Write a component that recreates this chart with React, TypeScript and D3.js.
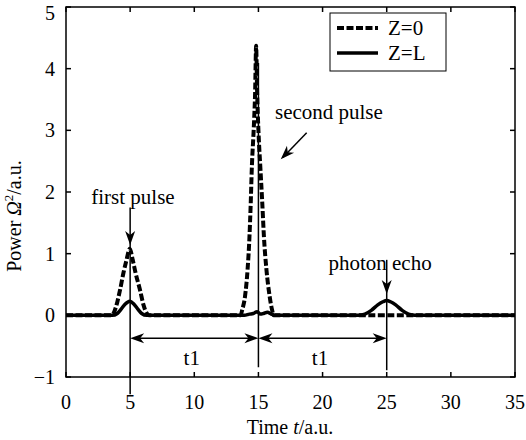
import React from "react";
import * as d3 from "d3";

// ---- Data ----
const tZ0 = [0, 3.5, 3.7, 3.94, 4.21, 4.48, 4.72, 4.97, 5.2, 5.42, 5.77, 6.04, 6.3, 6.5, 13.6, 13.75, 13.95, 14.15, 14.3, 14.4, 14.48, 14.65, 14.74, 14.82, 14.9, 15.0, 15.16, 15.3, 15.43, 15.63, 15.88, 16.05, 16.2, 35];
const pZ0 = [0, 0, 0.03, 0.17, 0.41, 0.69, 0.9, 1.08, 0.9, 0.69, 0.41, 0.17, 0.03, 0, 0, 0.1, 0.3, 0.73, 1.27, 1.82, 2.36, 3.1, 3.6, 4.37, 3.6, 3.0, 2.36, 1.82, 1.27, 0.73, 0.3, 0.1, 0, 0];

const tZL = [0, 3.6, 4.0, 4.3, 4.6, 4.97, 5.3, 5.6, 5.9, 6.3, 13.9, 14.3, 14.6, 14.9, 15.15, 15.4, 15.7, 16.0, 16.3, 22.8, 23.3, 23.8, 24.3, 24.7, 25.0, 25.3, 25.7, 26.2, 26.7, 27.2, 35];
const pZL = [0, 0, 0.03, 0.1, 0.18, 0.23, 0.18, 0.1, 0.03, 0, 0, 0.02, 0.03, 0.06, 0.02, 0.03, 0.05, 0.02, 0, 0, 0.02, 0.08, 0.17, 0.22, 0.24, 0.22, 0.17, 0.08, 0.02, 0, 0];

const xTicks = [0, 5, 10, 15, 20, 25, 30, 35];
const yTicks = [-1, 0, 1, 2, 3, 4, 5];
const seriesNames = ["Z=0", "Z=L"];

// Annotation anchors in data units
const markerT = [5, 15, 25];
const markerTop = [1.75, 4.09, 0.9];
const markerBottom = [-1.28, -0.84, -0.89];
const intervalY = -0.37;
const intervalLabels = ["t1", "t1"];

const FONT = "'Liberation Serif', 'Times New Roman', serif";

function arrowHead(tx: number, ty: number, dx: number, dy: number) {
  const len = Math.hypot(dx, dy);
  const ux = dx / len, uy = dy / len;
  const nx = -uy, ny = ux;
  const L = 14, W = 5, N = 4;
  const p = [
    [tx, ty],
    [tx - L * ux + W * nx, ty - L * uy + W * ny],
    [tx - (L - N) * ux, ty - (L - N) * uy],
    [tx - L * ux - W * nx, ty - L * uy - W * ny],
  ];
  return "M" + p.map((q) => q.join(",")).join("L") + "Z";
}

export default function App() {
  const W = 526, H = 440;
  const x = d3.scaleLinear().domain([0, 35]).range([66, 515]);
  const y = d3.scaleLinear().domain([-1, 5]).range([377, 7]);

  const line = d3
    .line<[number, number]>()
    .x((d) => x(d[0]))
    .y((d) => y(d[1]))
    .curve(d3.curveMonotoneX);

  const z0 = line(tZ0.map((t, i) => [t, pZ0[i]] as [number, number])) || "";
  const zl = line(tZL.map((t, i) => [t, pZL[i]] as [number, number])) || "";

  const x0 = x.range()[0], x1 = x.range()[1];
  const yb = y.range()[0], yt = y.range()[1];
  const tick = 5;

  return (
    <svg width={W} height={H} style={{ position: "absolute", left: 0, top: 0, background: "#fff" }} fontFamily={FONT}>
      <rect x={0} y={0} width={W} height={H} fill="#fff" />
      {/* series */}
      <path d={zl} fill="none" stroke="#000" strokeWidth={3.5} strokeLinejoin="round" />
      <path d={z0} fill="none" stroke="#000" strokeWidth={4} strokeDasharray="7 2.5" />

      {/* frame */}
      <rect x={x0} y={yt} width={x1 - x0} height={yb - yt} fill="none" stroke="#000" strokeWidth={1.5} />
      {xTicks.map((t) => (
        <g key={"xt" + t}>
          <line x1={x(t)} x2={x(t)} y1={yb} y2={yb - tick} stroke="#000" strokeWidth={1.5} />
          <line x1={x(t)} x2={x(t)} y1={yt} y2={yt + tick} stroke="#000" strokeWidth={1.5} />
          <text x={x(t)} y={yb + 32} fontSize={20} textAnchor="middle">{t}</text>
        </g>
      ))}
      {yTicks.map((v) => (
        <g key={"yt" + v}>
          <line x1={x0} x2={x0 + tick} y1={y(v)} y2={y(v)} stroke="#000" strokeWidth={1.5} />
          <line x1={x1} x2={x1 - tick} y1={y(v)} y2={y(v)} stroke="#000" strokeWidth={1.5} />
          <text x={55} y={Math.max(y(v) + 7, 20)} fontSize={20} textAnchor="end">{v < 0 ? "\u2212" + Math.abs(v) : v}</text>
        </g>
      ))}

      {/* axis labels */}
      <text x={290} y={434} fontSize={20} textAnchor="middle">
        Time <tspan fontStyle="italic">t</tspan>/a.u.
      </text>
      <text transform="translate(21,216) rotate(-90)" fontSize={20} textAnchor="middle">
        Power <tspan fontStyle="italic">Ω</tspan>
        <tspan fontSize={13} dy={-8}>2</tspan>
        <tspan dy={8}>/a.u.</tspan>
      </text>

      {/* vertical markers */}
      {markerT.map((t, i) => (
        <line key={"m" + i} x1={x(t)} x2={x(t)} y1={y(markerTop[i])} y2={y(markerBottom[i])} stroke="#000" strokeWidth={1.5} />
      ))}
      <path d={arrowHead(x(5), y(1.14), 0, 1)} fill="#000" />
      <path d={arrowHead(x(25), y(0.345), 0, 1)} fill="#000" />

      {/* interval arrows */}
      {[0, 1].map((i) => {
        const xa = x(markerT[i]), xb = x(markerT[i + 1]), yy = y(intervalY);
        return (
          <g key={"iv" + i}>
            <line x1={xa + 4} x2={xb - 4} y1={yy} y2={yy} stroke="#000" strokeWidth={1.5} />
            <path d={arrowHead(xa, yy, -1, 0)} fill="#000" />
            <path d={arrowHead(xb, yy, 1, 0)} fill="#000" />
            <text x={x((markerT[i] + markerT[i + 1]) / 2 - 0.2)} y={y(-0.805)} fontSize={21} textAnchor="middle">{intervalLabels[i]}</text>
          </g>
        );
      })}

      {/* text annotations */}
      <text x={x(5.22)} y={y(1.805)} fontSize={21} textAnchor="middle">first pulse</text>
      <text x={x(16.29)} y={y(3.18)} fontSize={21}>second pulse</text>
      <line x1={x(18.76)} y1={y(2.96)} x2={x(16.9)} y2={y(2.56)} stroke="#000" strokeWidth={1.5} />
      <path d={arrowHead(x(16.74), y(2.53), x(16.74) - x(18.76), y(2.53) - y(2.96))} fill="#000" />
      <text x={x(24.48)} y={y(0.735)} fontSize={21} textAnchor="middle">photon echo</text>

      {/* legend */}
      <rect x={330} y={13} width={116} height={58} fill="#fff" stroke="#000" strokeWidth={1} />
      <line x1={337} x2={378} y1={28} y2={28} stroke="#000" strokeWidth={4} strokeDasharray="7 2.5" />
      <line x1={337} x2={378} y1={53} y2={53} stroke="#000" strokeWidth={3.5} />
      <text x={388} y={35} fontSize={21}>{seriesNames[0]}</text>
      <text x={388} y={60} fontSize={21}>{seriesNames[1]}</text>
    </svg>
  );
}
